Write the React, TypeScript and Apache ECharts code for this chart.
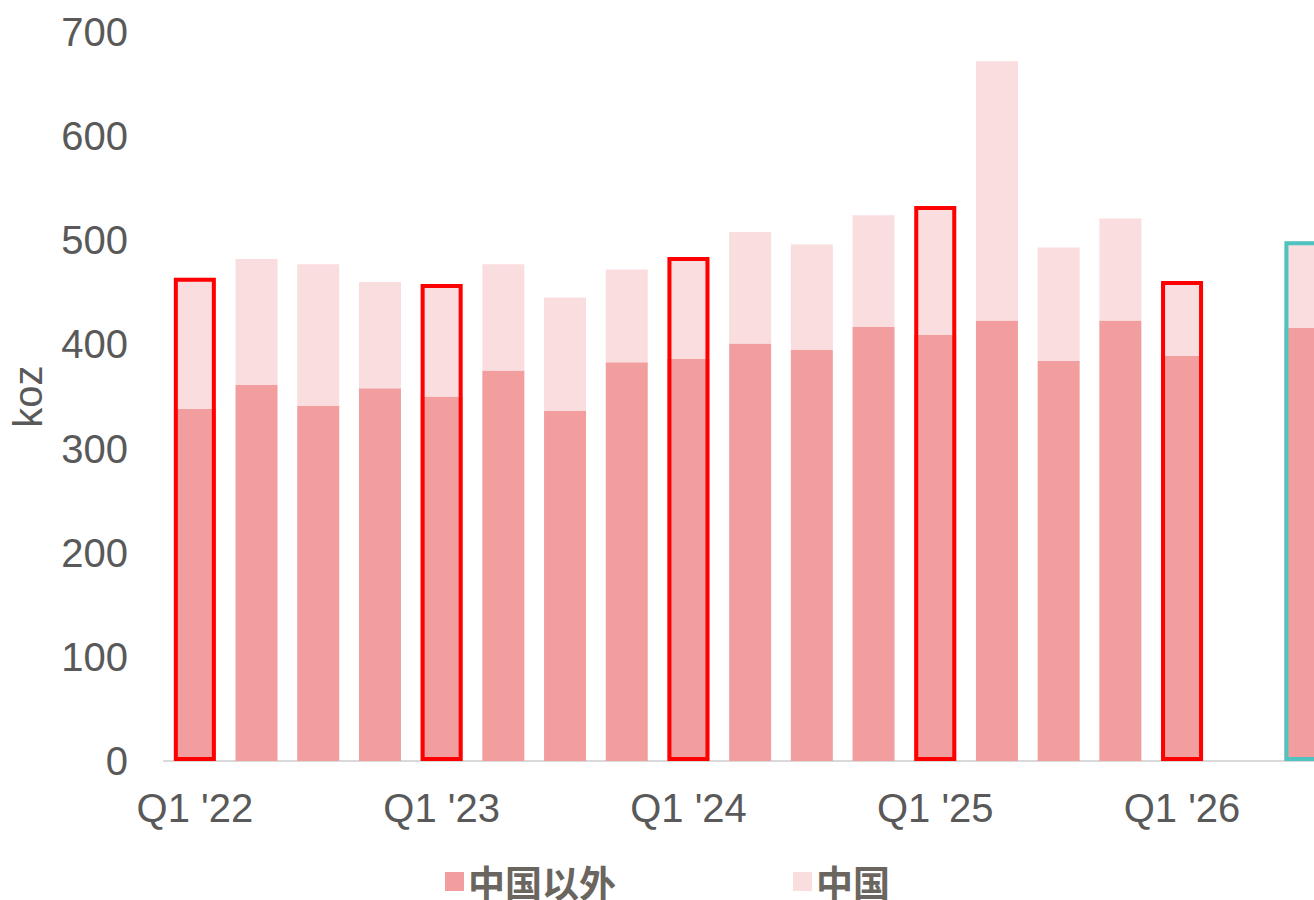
import React, { useEffect, useRef } from "react";
import * as echarts from "echarts";

const categories = [
  "Q1 '22", "Q2 '22", "Q3 '22", "Q4 '22",
  "Q1 '23", "Q2 '23", "Q3 '23", "Q4 '23",
  "Q1 '24", "Q2 '24", "Q3 '24", "Q4 '24",
  "Q1 '25", "Q2 '25", "Q3 '25", "Q4 '25",
  "Q1 '26", "", "2026",
];

// 中国以外 (excluding China)
const exChina = [338, 361, 341, 358, 350, 375, 336, 383, 386, 401, 395, 417, 409, 423, 384, 423, 389, null, 416];
// 中国 (China)
const china = [126, 121, 136, 102, 108, 102, 109, 89, 98, 107, 101, 107, 124, 249, 109, 98, 72, null, 83];

// outline markers: "q1" = red outline, "fc" = teal outline
const outlineKind = ["q1", "", "", "", "q1", "", "", "", "q1", "", "", "", "q1", "", "", "", "q1", "", "fc"];

const yTicks = [0, 100, 200, 300, 400, 500, 600, 700];

const DARK = "#F29E9F";
const LIGHT = "#FADDDF";
const RED = "#FF0000";
const TEAL = "#4FC3BF";
const TEXT = "#595959";

export default function App() {
  const ref = useRef<HTMLDivElement>(null);

  useEffect(() => {
    if (!ref.current) return;
    const chart = echarts.init(ref.current, undefined, { renderer: "svg" });

    const outlineData = outlineKind.map((k, i) => {
      if (!k || exChina[i] == null) return "-";
      return {
        value: (exChina[i] as number) + (china[i] as number),
        itemStyle: {
          color: "rgba(0,0,0,0)",
          borderColor: k === "q1" ? RED : TEAL,
          borderWidth: 4,
        },
      };
    });

    const slot = 61.7;

    chart.setOption({
      animation: false,
      textStyle: { fontFamily: "'Liberation Sans', Arial, 'Noto Sans CJK SC', sans-serif" },
      grid: {
        left: 164,
        top: 32,
        width: slot * categories.length,
        height: 729,
        containLabel: false,
        outerBoundsMode: "none",
      },
      legend: {
        data: ["中国以外", "中国"],
        left: 445,
        top: 863,
        padding: 0,
        itemWidth: 19,
        itemHeight: 19,
        itemGap: 177,
        icon: "rect",
        textStyle: {
          fontFamily: "'Noto Sans CJK SC', sans-serif",
          fontSize: 37,
          lineHeight: 36,
          fontWeight: "bold",
          color: "#6B655F",
          padding: [0, 0, 0, -1],
        },
      },
      xAxis: {
        type: "category",
        data: categories,
        axisLine: { show: true, lineStyle: { color: "#D9D9D9", width: 2 } },
        axisTick: { show: false },
        axisLabel: {
          interval: 3,
          margin: 27,
          fontSize: 40,
          color: TEXT,
        },
        splitLine: { show: false },
      },
      yAxis: {
        type: "value",
        min: 0,
        max: 700,
        interval: 100,
        name: "koz",
        nameLocation: "middle",
        nameRotate: 90,
        nameGap: 116,
        nameTextStyle: { fontSize: 40, color: TEXT },
        axisLine: { show: false },
        axisTick: { show: false },
        splitLine: { show: false },
        axisLabel: {
          margin: 36,
          fontSize: 40,
          color: TEXT,
          formatter: (v: number) => (yTicks.includes(v) ? String(v) : ""),
        },
      },
      series: [
        {
          name: "中国以外",
          type: "bar",
          stack: "total",
          barWidth: 42,
          itemStyle: { color: DARK },
          data: exChina.map((v) => (v == null ? "-" : v)),
        },
        {
          name: "中国",
          type: "bar",
          stack: "total",
          barWidth: 42,
          itemStyle: { color: LIGHT },
          data: china.map((v) => (v == null ? "-" : v)),
        },
        {
          name: "outline",
          type: "bar",
          barWidth: 42,
          barGap: "-100%",
          z: 3,
          silent: true,
          itemStyle: { color: "rgba(0,0,0,0)" },
          data: outlineData,
        },
      ],
    });

    return () => chart.dispose();
  }, []);

  return (
    <div
      style={{
        position: "fixed",
        left: 0,
        top: 0,
        width: 1314,
        height: 900,
        overflow: "hidden",
        background: "#fff",
      }}
    >
      <div ref={ref} style={{ width: 1360, height: 900 }} />
    </div>
  );
}
